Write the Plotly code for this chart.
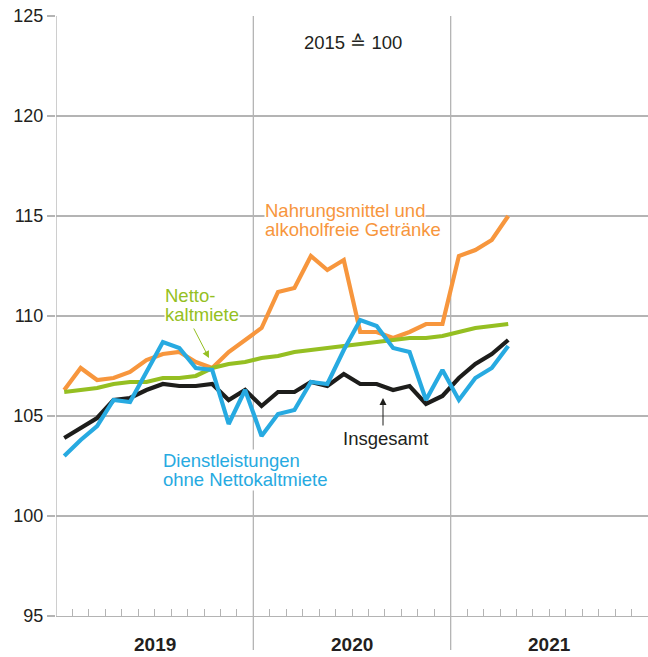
import plotly.graph_objects as go

# ---------------- data ----------------
months = [f"{y}-{m:02d}" for y in (2019, 2020, 2021) for m in range(1, 13)]
years = ["2019", "2020", "2021"]
y_ticks = [95, 100, 105, 110, 115, 120, 125]

insgesamt = [103.9, 104.4, 104.9, 105.8, 105.9, 106.3, 106.6, 106.5, 106.5, 106.6, 105.8, 106.3,
             105.5, 106.2, 106.2, 106.7, 106.5, 107.1, 106.6, 106.6, 106.3, 106.5, 105.6, 106.0,
             106.9, 107.6, 108.1, 108.8]
nahrung = [106.3, 107.4, 106.8, 106.9, 107.2, 107.8, 108.1, 108.2, 107.7, 107.4, 108.2, 108.8,
           109.4, 111.2, 111.4, 113.0, 112.3, 112.8, 109.2, 109.2, 108.9, 109.2, 109.6, 109.6,
           113.0, 113.3, 113.8, 115.0]
nettokaltmiete = [106.2, 106.3, 106.4, 106.6, 106.7, 106.7, 106.9, 106.9, 107.0, 107.4, 107.6, 107.7,
                  107.9, 108.0, 108.2, 108.3, 108.4, 108.5, 108.6, 108.7, 108.8, 108.9, 108.9, 109.0,
                  109.2, 109.4, 109.5, 109.6]
dienstleistungen = [103.0, 103.8, 104.5, 105.8, 105.7, 107.2, 108.7, 108.4, 107.4, 107.3, 104.6, 106.3,
                    104.0, 105.1, 105.3, 106.7, 106.6, 108.3, 109.8, 109.5, 108.4, 108.2, 105.8, 107.3,
                    105.8, 106.9, 107.4, 108.5]

# ---------------- style ----------------
W, H = 648, 657
PL, PR, PT, PB = 56, 648, 16, 616
FONT = "Liberation Sans, Arial, Helvetica, sans-serif"
GRID = "#b4b4b4"
TXT = "#231f20"
C_ORANGE = "#f7963d"
C_GREEN = "#95bf22"
C_BLUE = "#27aae1"
C_BLACK = "#1d1d1b"

n_months = len(months)


def px_x(px):
    return -0.5 + (px - PL) / (PR - PL) * n_months


def px_y(py):
    return y_ticks[-1] - (py - PT) / (PB - PT) * (y_ticks[-1] - y_ticks[0])


def paper_y(py):
    return (PB - py) / (PB - PT)


fig = go.Figure()

series = [
    (nahrung, C_ORANGE),
    (nettokaltmiete, C_GREEN),
    (insgesamt, C_BLACK),
    (dienstleistungen, C_BLUE),
]
for vals, col in series:
    fig.add_trace(go.Scatter(
        x=list(range(len(vals))), y=vals, mode="lines",
        line=dict(color=col, width=4.2), showlegend=False, hoverinfo="skip",
    ))

shapes = []
# year dividers
for k in range(len(years)):
    xb = 12 * k - 0.5
    shapes.append(dict(type="line", xref="x", yref="paper", x0=xb, x1=xb,
                       y0=(0 if k == 0 else paper_y(650)), y1=1,
                       line=dict(color=GRID, width=1.3), layer="below"))
# 100 baseline
shapes.append(dict(type="line", xref="paper", yref="y", x0=0, x1=1, y0=100, y1=100,
                   line=dict(color="#000000", width=1.6), layer="below"))

ann = []
# year labels
for k, yr in enumerate(years):
    ann.append(dict(x=12 * k + 5.5, y=paper_y(644), xref="x", yref="paper", text=f"<b>{yr}</b>",
                    showarrow=False, font=dict(size=19, color=TXT, family=FONT),
                    xanchor="center", yanchor="middle"))


def label(text, px, py, color, anchor="left", bg="white"):
    ann.append(dict(x=px_x(px), y=px_y(py), xref="x", yref="y", text=text, showarrow=False,
                    font=dict(size=18.5, color=color, family=FONT), xanchor=anchor, yanchor="middle",
                    bgcolor=bg, borderpad=0))


NOBG = "rgba(0,0,0,0)"
label("2015 ≙ 100", 353, 42, TXT, anchor="center", bg=NOBG)
label("alkoholfreie Getränke", 264, 229, C_ORANGE)
label("Nahrungsmittel und", 264, 210, C_ORANGE)
label("kaltmiete", 164, 314, C_GREEN)
label("Netto-", 164, 295, C_GREEN, bg=NOBG)
label("ohne Nettokaltmiete", 162, 479, C_BLUE)
label("Dienstleistungen", 162, 460, C_BLUE)
label("Insgesamt", 385, 438, TXT, anchor="center", bg=NOBG)

# arrows
ann.append(dict(x=px_x(209), y=px_y(358), xref="x", yref="y", ax=-16, ay=-31,
                axref="pixel", ayref="pixel", text="", showarrow=True,
                arrowhead=2, arrowsize=1.4, arrowwidth=1, arrowcolor=C_GREEN))
ann.append(dict(x=px_x(383), y=px_y(398), xref="x", yref="y", ax=0, ay=29,
                axref="pixel", ayref="pixel", text="", showarrow=True,
                arrowhead=2, arrowsize=1.4, arrowwidth=1, arrowcolor=C_BLACK))

fig.update_layout(
    width=W, height=H, autosize=False,
    margin=dict(l=PL, r=W - PR, t=PT, b=H - PB, pad=0),
    paper_bgcolor="white", plot_bgcolor="white",
    font=dict(family=FONT, color=TXT, size=18),
    shapes=shapes, annotations=ann,
    xaxis=dict(range=[-0.5, n_months - 0.5], showgrid=False, zeroline=False,
               tickmode="array", tickvals=[k - 0.5 for k in range(1, n_months)],
               ticks="inside", ticklen=7, tickwidth=1, tickcolor=GRID,
               showticklabels=False, showline=True, linecolor=GRID, linewidth=1.3),
    yaxis=dict(range=[y_ticks[0], y_ticks[-1]], tickmode="array", tickvals=y_ticks,
               showgrid=True, gridcolor=GRID, gridwidth=1.3, zeroline=False,
               ticks="outside", ticklen=8, tickwidth=1.3, tickcolor=GRID,
               tickfont=dict(size=18, color=TXT, family=FONT), showline=False),
)

fig.write_html("out.html", config={"displayModeBar": False, "staticPlot": True},
               post_script="document.body.style.margin='0';document.body.style.overflow='hidden';")
